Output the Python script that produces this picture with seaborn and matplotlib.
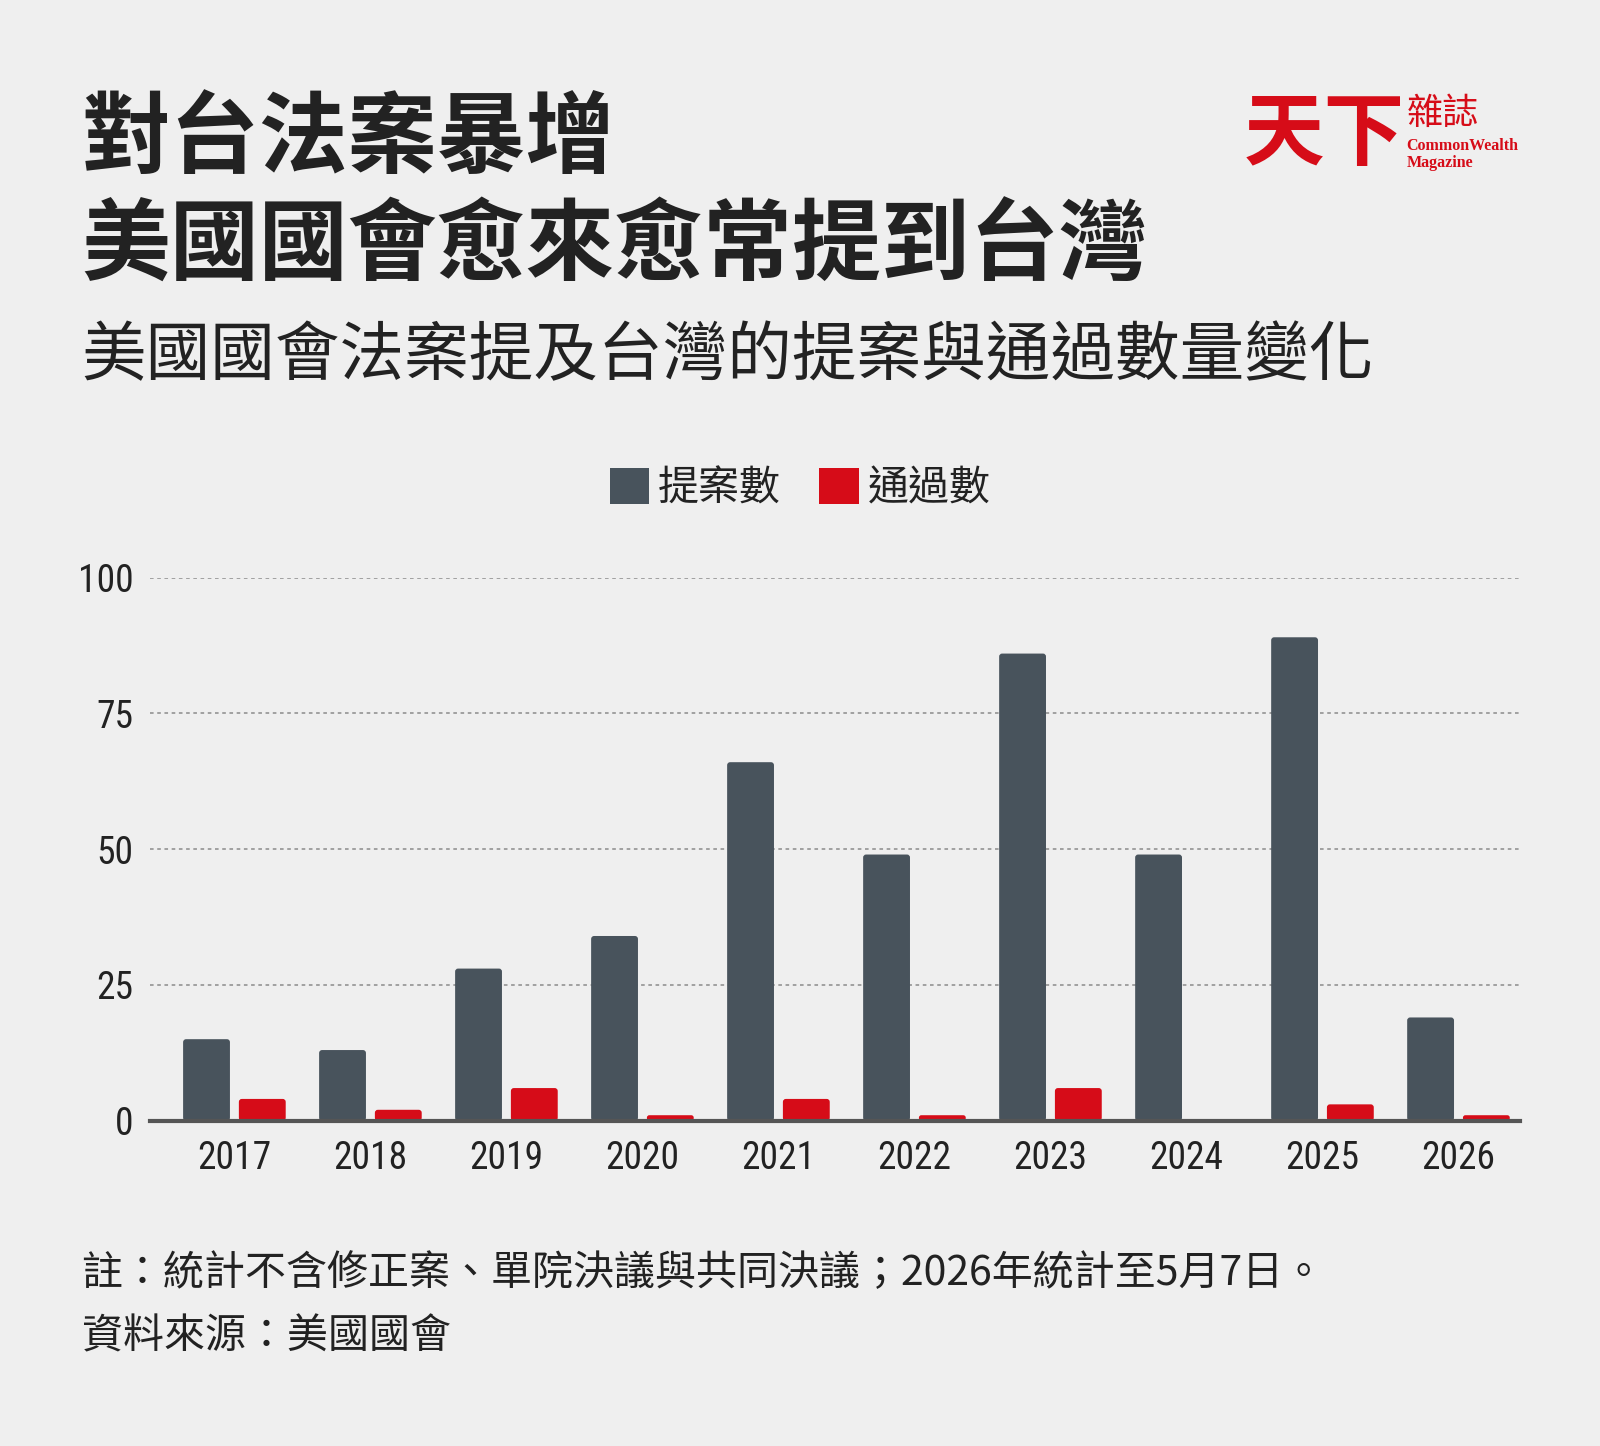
import numpy as np
import pandas as pd
import seaborn as sns
import matplotlib
matplotlib.use('Agg')
from matplotlib import pyplot as plt
from matplotlib import font_manager
from matplotlib.patches import FancyBboxPatch, Patch

# data
years = ['2017', '2018', '2019', '2020', '2021', '2022', '2023', '2024', '2025', '2026']
proposed = [15, 13, 28, 34, 66, 49, 86, 49, 89, 19]
passed = [4, 2, 6, 1, 4, 1, 6, 0, 3, 1]
series_names = ['提案數', '通過數']

title_lines = ['對台法案暴增', '美國國會愈來愈常提到台灣']
subtitle = '美國國會法案提及台灣的提案與通過數量變化'
note = '註：統計不含修正案、單院決議與共同決議；2026年統計至5月7日。'
source = '資料來源：美國國會'

bg = '#efefef'
dark = '#48535c'
red = '#d60c18'
txt = '#222222'

# pick fonts that exist
names = {f.name for f in font_manager.fontManager.ttflist}
num_font = next((n for n in ['Liberation Sans Narrow', 'Roboto Condensed', 'Roboto', 'DejaVu Sans'] if n in names))
cjk = 'Noto Sans CJK TC'

sns.set_theme(style='white')
plt.rcParams['font.family'] = [cjk, 'DejaVu Sans']

df = pd.DataFrame({
    'year': years * 2,
    'series': [series_names[0]] * len(years) + [series_names[1]] * len(years),
    'value': proposed + passed,
})

fig = plt.figure(figsize=(16, 14.46), dpi=100)
fig.patch.set_facecolor(bg)
ax = fig.add_axes([0.0938, 0.225, 0.856, 0.3756])
ax.set_facecolor(bg)

sns.barplot(data=df, x='year', y='value', hue='series', hue_order=series_names,
            palette=[dark, red], width=0.82, gap=0.16, ax=ax, saturation=1, legend=False)

ax.set_xlim(-0.62, 9.45)
ax.set_ylim(0, 100)

# rounded tops for bars
aspect = (100 / (0.3756 * 1446)) / (10.07 / (0.856 * 1600))
for p in list(ax.patches):
    x, y = p.get_x(), p.get_y()
    w, h = p.get_width(), p.get_height()
    fc = p.get_facecolor()
    p.remove()
    if h <= 0:
        continue
    r = min(0.022, h / aspect / 2.2, w / 2.2)
    ax.add_patch(FancyBboxPatch((x, y), w, h, boxstyle=f'round,pad=0,rounding_size={r}',
                                mutation_aspect=aspect, facecolor=fc, edgecolor='none', zorder=2))

# legend at the top, centred
handles = [Patch(facecolor=c, edgecolor='none') for c in [dark, red]]
fig.legend(handles, series_names, loc='center', bbox_to_anchor=(0.5, 0.662), ncol=2,
           frameon=False, fontsize=29.5, handlelength=0.97, handleheight=0.97,
           handletextpad=0.2, columnspacing=0.95, labelcolor=txt)

ax.set_yticks([0, 25, 50, 75, 100])
ax.yaxis.grid(True, color='#9a9a9a', linestyle=(0, (2, 2)), linewidth=1.3)
ax.set_axisbelow(True)
for s in ['top', 'right', 'left']:
    ax.spines[s].set_visible(False)
ax.spines['bottom'].set_color('#555555')
ax.spines['bottom'].set_linewidth(3)
ax.spines['bottom'].set_zorder(3)
ax.tick_params(axis='both', length=0, labelsize=27, labelcolor=txt)
ax.tick_params(axis='y', pad=12)
ax.tick_params(axis='x', pad=14)
for lab in ax.get_xticklabels() + ax.get_yticklabels():
    lab.set_fontfamily(num_font)
ax.set_xlabel('')
ax.set_ylabel('')

# titles
fig.text(0.051, 0.903, title_lines[0], fontsize=64, fontweight='bold', color=txt, va='center')
fig.text(0.051, 0.829, title_lines[1], fontsize=64, fontweight='bold', color=txt, va='center')
fig.text(0.051, 0.7535, subtitle, fontsize=46.5, color=txt, va='center')

# footnotes
fig.text(0.051, 0.1193, note, fontsize=29.5, color=txt, va='center')
fig.text(0.051, 0.0755, source, fontsize=29.5, color=txt, va='center')

# logo
fig.text(0.777, 0.906, '天下', fontsize=58, fontweight='bold', color=red, va='center')
fig.text(0.879, 0.921, '雜誌', fontsize=26, color=red, va='center')
fig.text(0.879, 0.899, 'CommonWealth', fontsize=11.5, fontweight='bold', color=red, va='center',
         family=['Liberation Serif', 'DejaVu Serif'])
fig.text(0.879, 0.887, 'Magazine', fontsize=11.5, fontweight='bold', color=red, va='center',
         family=['Liberation Serif', 'DejaVu Serif'])

fig.savefig('out.png', dpi=100, facecolor=bg)
